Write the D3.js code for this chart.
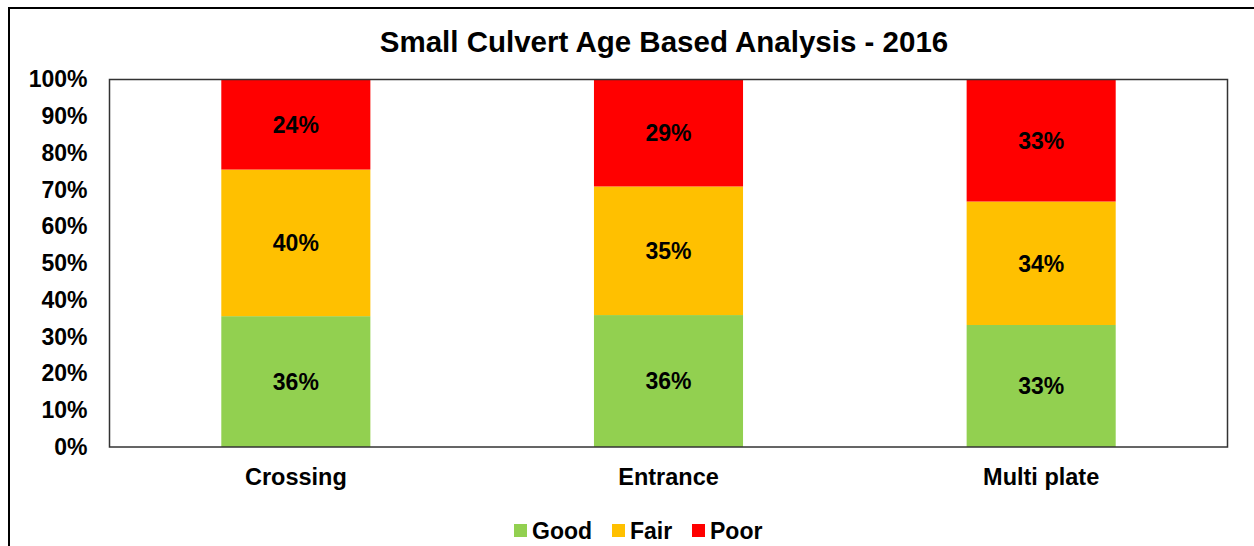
<!DOCTYPE html>
<html>
<head>
<meta charset="utf-8">
<script src="https://cdn.jsdelivr.net/npm/d3@7"></script>
<style>
body { margin: 0; background: #fff; }
text { font-family: "Liberation Sans", Arial, sans-serif; font-weight: bold; fill: #000; }
</style>
</head>
<body>
<svg id="main" width="1254" height="546"></svg>
<script>
var categories = ["Crossing", "Entrance", "Multi plate"];
var seriesNames = ["Good", "Fair", "Poor"];
var good = [0.356, 0.359, 0.332];
var fair = [0.399, 0.350, 0.336];
var poor = [0.245, 0.291, 0.332];
var goodLabels = ["36%", "36%", "33%"];
var fairLabels = ["40%", "35%", "34%"];
var poorLabels = ["24%", "29%", "33%"];
var yTicks = [0, 0.1, 0.2, 0.3, 0.4, 0.5, 0.6, 0.7, 0.8, 0.9, 1];
var colors = ["#92D050", "#FFC000", "#FF0000"];

var rows = categories.map(function(c, i) {
	return {cat: c, Good: good[i], Fair: fair[i], Poor: poor[i], labels: [goodLabels[i], fairLabels[i], poorLabels[i]]};
});

var svg = d3.select("#main");
svg.append("rect").attr("width", 1254).attr("height", 546).attr("fill", "#fff");
// outer chart border (cut off on the right and bottom)
svg.append("rect").attr("x", 9).attr("y", 8).attr("width", 1400).attr("height", 700)
	.attr("fill", "none").attr("stroke", "#000").attr("stroke-width", 2);

var plotL = 109.5, plotR = 1227.5, plotT = 79.5, plotB = 447;

var x = d3.scaleBand().domain(categories).range([plotL, plotR]).paddingInner(0.6).paddingOuter(0.3);
var y = d3.scaleLinear().domain([0, 1]).range([plotB, plotT]);

svg.append("text").attr("x", 664).attr("y", 52).attr("text-anchor", "middle")
	.style("font-size", "29.5px").text("Small Culvert Age Based Analysis - 2016");

var stack = d3.stack().keys(seriesNames)(rows);

var layers = svg.append("g").selectAll("g").data(stack).enter().append("g")
	.attr("fill", function(d, i) { return colors[i]; });
layers.selectAll("rect").data(function(d) { return d; }).enter().append("rect")
	.attr("x", function(d) { return x(d.data.cat); })
	.attr("width", x.bandwidth())
	.attr("y", function(d) { return y(d[1]); })
	.attr("height", function(d) { return y(d[0]) - y(d[1]); });

stack.forEach(function(s, si) {
	svg.append("g").selectAll("text").data(s).enter().append("text")
		.attr("x", function(d) { return x(d.data.cat) + x.bandwidth() / 2; })
		.attr("y", function(d) { return (y(d[0]) + y(d[1])) / 2; })
		.attr("dy", "0.36em")
		.attr("text-anchor", "middle")
		.style("font-size", "23px")
		.text(function(d) { return d.data.labels[si]; });
});

// plot frame
svg.append("rect").attr("x", plotL).attr("y", plotT).attr("width", plotR - plotL).attr("height", plotB - plotT)
	.attr("fill", "none").attr("stroke", "#333").attr("stroke-width", 1.5);

var yAxis = svg.append("g").attr("transform", "translate(" + plotL + ",0)")
	.call(d3.axisLeft(y).tickValues(yTicks).tickFormat(d3.format(".0%")).tickSize(0).tickPadding(22));
yAxis.select(".domain").remove();
yAxis.selectAll("text").style("font-size", "23px").attr("fill", "#000");

var xAxis = svg.append("g").attr("transform", "translate(0," + plotB + ")")
	.call(d3.axisBottom(x).tickSize(0).tickPadding(21));
xAxis.select(".domain").remove();
xAxis.selectAll("text").style("font-size", "23.5px").attr("fill", "#000");

// legend
var legendX = [514, 612, 692];
var legend = svg.append("g").selectAll("g").data(seriesNames).enter().append("g")
	.attr("transform", function(d, i) { return "translate(" + legendX[i] + ",524)"; });
legend.append("rect").attr("width", 13).attr("height", 13).attr("fill", function(d, i) { return colors[i]; });
legend.append("text").attr("x", 18).attr("y", 6.5).attr("dy", "0.36em").style("font-size", "23px").text(function(d) { return d; });
</script>
</body>
</html>
